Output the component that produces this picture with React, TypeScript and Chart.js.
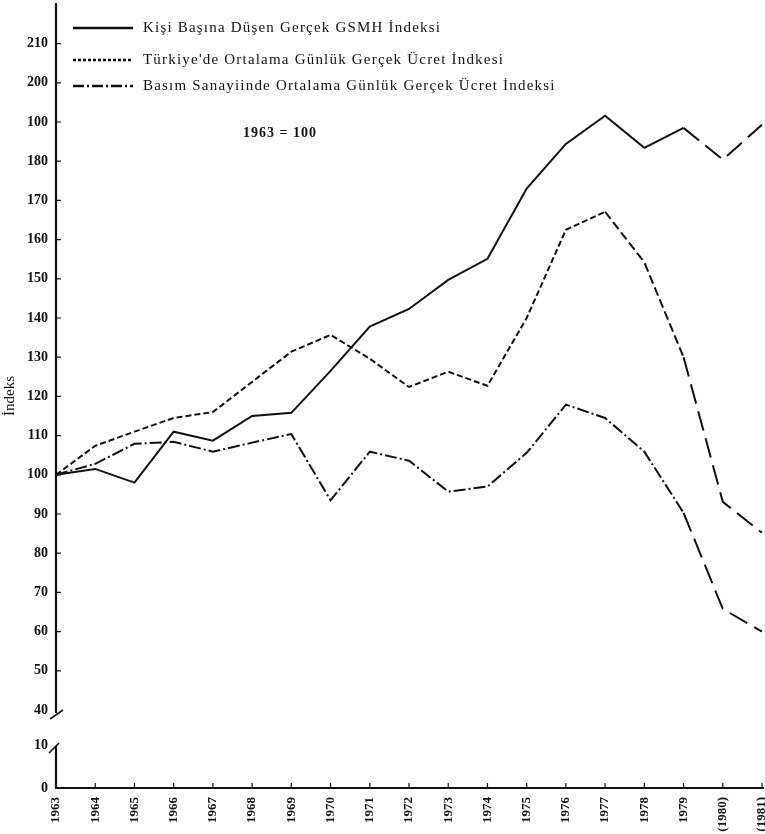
import React, { useEffect, useRef } from 'react';
import { Chart, registerables, LinearScale } from 'chart.js';

// ---------- data ----------
const years = ['1963', '1964', '1965', '1966', '1967', '1968', '1969', '1970', '1971', '1972', '1973', '1974', '1975', '1976', '1977', '1978', '1979', '(1980)', '(1981)'];
const gsmhIndex = [100, 101.5, 98, 111, 108.7, 115, 115.8, 126.5, 137.8, 142.3, 149.7, 155.1, 173, 184.4, 191.6, 183.4, 188.5, 180.4, 189.3];
const turkeyWageIndex = [100, 107.4, 111, 114.5, 116, 123.7, 131.4, 135.7, 129.6, 122.4, 126.3, 122.7, 140, 162.5, 167.1, 154.2, 130, 93.1, 85.2];
const printingWageIndex = [100, 102.8, 107.9, 108.4, 105.9, 108.2, 110.4, 93.5, 105.9, 103.6, 95.7, 97, 105.6, 117.9, 114.5, 105.9, 90.3, 65.8, 60];
const seriesLabels = [
  'Kişi Başına Düşen Gerçek GSMH İndeksi',
  "Türkiye'de Ortalama Günlük Gerçek Ücret İndkesi",
  'Basım Sanayiinde Ortalama Günlük Gerçek Ücret İndeksi',
];
const yTickValues = [0, 10, 40, 50, 60, 70, 80, 90, 100, 110, 120, 130, 140, 150, 160, 170, 180, 190, 200, 210];
const yTickLabels = ['0', '10', '40', '50', '60', '70', '80', '90', '100', '110', '120', '130', '140', '150', '160', '170', '180', '100', '200', '210'];
const baseNote = '1963 = 100';
const yTitle = 'İndeks';

// ---------- broken axis scale ----------
const BREAK_LOW = 10;
const BREAK_HIGH = 40;
const LOW_STRETCH = 1.097;
const HIGH_SHIFT = 20.1;
function toInner(v: number) {
  if (v >= BREAK_HIGH) return v - HIGH_SHIFT;
  if (v <= BREAK_LOW) return v * LOW_STRETCH;
  const a = BREAK_LOW * LOW_STRETCH;
  const b = BREAK_HIGH - HIGH_SHIFT;
  return a + ((v - BREAK_LOW) * (b - a)) / (BREAK_HIGH - BREAK_LOW);
}
function toOuter(u: number) {
  const a = BREAK_LOW * LOW_STRETCH;
  const b = BREAK_HIGH - HIGH_SHIFT;
  if (u >= b) return u + HIGH_SHIFT;
  if (u <= a) return u / LOW_STRETCH;
  return BREAK_LOW + ((u - a) * (BREAK_HIGH - BREAK_LOW)) / (b - a);
}

class BrokenLinearScale extends LinearScale {
  static id = 'brokenLinear';
  static defaults = LinearScale.defaults;
  getPixelForValue(value: number) {
    return super.getPixelForValue(toInner(value));
  }
  getValueForPixel(pixel: number) {
    return toOuter(super.getValueForPixel(pixel) as number);
  }
}

Chart.register(...registerables, BrokenLinearScale);

const INK = '#111';
const tickFont = { family: '"Liberation Serif", serif', size: 14, weight: 'bold' as const };
const xTickFont = { family: '"Liberation Serif", serif', size: 13, weight: 'bold' as const };
const legendDashes = [[], [3, 2], [11, 3, 2, 3]];

const decorPlugin = {
  id: 'decor',
  afterDraw(chart: any) {
    const { ctx, chartArea, scales } = chart;
    const y = scales.y;
    const x = scales.x;
    const left = chartArea.left;
    const bottom = chartArea.bottom;
    ctx.save();
    ctx.strokeStyle = INK;
    ctx.lineCap = 'butt';

    // y axis (broken)
    const p40 = y.getPixelForValue(BREAK_HIGH);
    const p10 = y.getPixelForValue(BREAK_LOW);
    ctx.lineWidth = 2.2;
    ctx.beginPath();
    ctx.moveTo(left, chartArea.top - 1);
    ctx.lineTo(left, p40 + 3);
    ctx.moveTo(left, p10 + 1);
    ctx.lineTo(left, bottom + 1);
    ctx.stroke();
    ctx.lineWidth = 1.6;
    ctx.beginPath();
    ctx.moveTo(left - 6, p40 + 9);
    ctx.lineTo(left + 7, p40);
    ctx.moveTo(left - 7, p10 + 8);
    ctx.lineTo(left + 3, p10 - 2);
    ctx.stroke();

    // x axis
    ctx.lineWidth = 2.2;
    ctx.beginPath();
    ctx.moveTo(left - 1, bottom);
    ctx.lineTo(chartArea.right + 2, bottom);
    ctx.stroke();

    // inward ticks
    ctx.lineWidth = 1.2;
    ctx.beginPath();
    yTickValues.forEach((v) => {
      if (v <= BREAK_HIGH) return;
      const py = y.getPixelForValue(v);
      ctx.moveTo(left, py);
      ctx.lineTo(left + 5, py);
    });
    years.forEach((_, i) => {
      if (i === 0) return;
      const px = x.getPixelForValue(i);
      ctx.moveTo(px, bottom);
      ctx.lineTo(px, bottom - 5);
    });
    ctx.stroke();

    // legend
    const rowsY = [28, 60, 86];
    chart.data.datasets.forEach((ds: any, i: number) => {
      const ly = rowsY[i];
      ctx.lineWidth = 2.4;
      ctx.setLineDash(legendDashes[i]);
      ctx.beginPath();
      ctx.moveTo(73, ly);
      ctx.lineTo(133, ly);
      ctx.stroke();
      ctx.setLineDash([]);
      ctx.fillStyle = INK;
      ctx.font = '15px "Liberation Serif", serif';
      (ctx as any).letterSpacing = '1.2px';
      ctx.textAlign = 'left';
      ctx.textBaseline = 'alphabetic';
      ctx.fillText(ds.label, 143, ly + 4);
    });

    // base note
    ctx.font = 'bold 14px "Liberation Serif", serif';
    (ctx as any).letterSpacing = '1px';
    ctx.textAlign = 'left';
    ctx.textBaseline = 'middle';
    ctx.fillText(baseNote, 243, 133);
    (ctx as any).letterSpacing = '0px';
    ctx.restore();
  },
};

export default function App() {
  const ref = useRef<HTMLCanvasElement | null>(null);
  useEffect(() => {
    document.body.style.margin = '0';
    const canvas = ref.current;
    if (!canvas) return;
    const longDash = [20, 8];
    const chart = new Chart(canvas, {
      type: 'line',
      data: {
        labels: years,
        datasets: [
          {
            label: seriesLabels[0],
            data: gsmhIndex,
            borderColor: INK,
            borderWidth: 2,
            pointRadius: 0,
            tension: 0,
            segment: { borderDash: (c: any) => (c.p0DataIndex >= 16 ? longDash : []) },
          },
          {
            label: seriesLabels[1],
            data: turkeyWageIndex,
            borderColor: INK,
            borderWidth: 2,
            pointRadius: 0,
            tension: 0,
            segment: {
              borderDash: (c: any) => (c.p0DataIndex >= 16 ? longDash : c.p0DataIndex >= 14 ? [9, 4] : [6, 3]),
            },
          },
          {
            label: seriesLabels[2],
            data: printingWageIndex,
            borderColor: INK,
            borderWidth: 2,
            pointRadius: 0,
            tension: 0,
            segment: { borderDash: (c: any) => (c.p0DataIndex >= 16 ? longDash : [12, 3, 2, 3]) },
          },
        ],
      },
      options: {
        animation: false,
        responsive: false,
        devicePixelRatio: 1,
        layout: { padding: { top: 4, right: 3, bottom: 0, left: 0 } },
        plugins: { legend: { display: false }, tooltip: { enabled: false } },
        scales: {
          x: {
            type: 'category',
            offset: false,
            grid: { display: false, drawTicks: false },
            border: { display: false },
            ticks: {
              autoSkip: false,
              minRotation: 90,
              maxRotation: 90,
              padding: 9,
              color: INK,
              font: xTickFont,
            },
            afterFit: (s: any) => {
              s.height = 46;
              s.paddingLeft = 0;
              s.paddingRight = 0;
            },
          },
          y: {
            type: 'brokenLinear' as any,
            min: 0,
            max: 200,
            grid: { display: false, drawTicks: false },
            border: { display: false },
            afterBuildTicks: (s: any) => {
              s.ticks = yTickValues.map((v) => ({ value: v }));
            },
            ticks: {
              padding: 8,
              color: INK,
              font: tickFont,
              callback: (v: any) => {
                const i = yTickValues.indexOf(Number(v));
                return i >= 0 ? yTickLabels[i] : '';
              },
            },
            title: {
              display: true,
              text: yTitle,
              color: INK,
              padding: { top: 1, bottom: 0 },
              font: { family: '"Liberation Serif", serif', size: 15 },
            },
            afterFit: (s: any) => {
              s.width = 56;
              s.paddingTop = 0;
              s.paddingBottom = 0;
            },
          },
        },
      } as any,
      plugins: [decorPlugin],
    });
    return () => chart.destroy();
  }, []);
  return (
    <div style={{ width: 765, height: 834, background: '#fff' }}>
      <canvas ref={ref} width={765} height={834} style={{ display: 'block' }} />
    </div>
  );
}
